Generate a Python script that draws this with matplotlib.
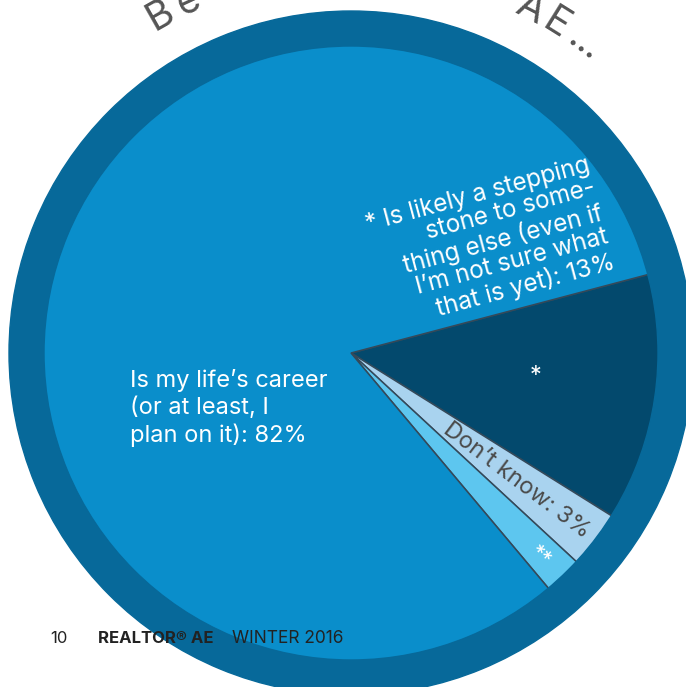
import numpy as np
import matplotlib
matplotlib.use("Agg")
import matplotlib.pyplot as plt
from matplotlib.patches import Annulus

# ---------------------------------------------------------------------------
# Data
# ---------------------------------------------------------------------------

shares = [13, 3, 2, 82]
slice_labels = [
    "* Is likely a stepping\nstone to some-\nthing else (even if\nI\u2019m not sure what\nthat is yet): 13%",
    "Don\u2019t know: 3%",
    "**",
    "Is my life\u2019s career\n(or at least, I\nplan on it): 82%",
]
slice_colors = ["#03496d", "#a9d3ef", "#5dc6ef", "#0a8ecb"]
ring_color = "#07699a"
title_left = "Be"
title_right = "AE ..."
footer_page = "10"
footer_mag = "REALTOR\u00ae AE"
footer_issue = "WINTER 2016"

W, H = 686, 687
FONT = ["Inter", "DejaVu Sans"]

fig = plt.figure(figsize=(W / 100, H / 100), dpi=100)
ax = fig.add_axes([0, 0, 1, 1])

# pie centre in pixel coords (y axis inverted below)
cx, cy = 351, 353
r_pie = 308

ax.pie(shares, colors=slice_colors, startangle=-14.8, counterclock=True,
       center=(cx, cy), radius=r_pie,
       wedgeprops=dict(edgecolor="#34495a", linewidth=1.1))
ax.add_patch(Annulus((cx, cy), r=342, width=35, color=ring_color, zorder=5))

ax.set_xlim(0, W)
ax.set_ylim(H, 0)
ax.set_aspect("equal")
ax.axis("off")

# ---------------------------------------------------------------------------
# Slice labels
# ---------------------------------------------------------------------------

ax.text(602, 213, slice_labels[0], color="white", fontsize=17.5, family=FONT,
        ha="right", va="center", multialignment="right",
        rotation=15, rotation_mode="anchor", linespacing=1.06, zorder=6)
ax.text(536, 376, "*", color="white", fontsize=17, family=FONT,
        ha="center", va="center", zorder=6)
ax.text(516, 481, slice_labels[1], color="#4a4a4a", fontsize=17, family=FONT,
        ha="center", va="center", rotation=-37,
        rotation_mode="anchor", zorder=6)
ax.text(540, 557, slice_labels[2], color="white", fontsize=15, family=FONT,
        ha="center", va="center", rotation=-42,
        rotation_mode="anchor", zorder=6)
ax.text(130, 369, slice_labels[3], color="white", fontsize=17, family=FONT,
        ha="left", va="top", linespacing=1.25, zorder=6)

# ---------------------------------------------------------------------------
# Curved title along the ring
# ---------------------------------------------------------------------------

def arc_text(chars, angles, radius=377):
    for ch, a in zip(chars, angles):
        t = np.radians(a)
        ax.text(cx + radius * np.sin(t), cy - radius * np.cos(t), ch,
                color="#555555", fontsize=28, family=FONT,
                ha="center", va="baseline", rotation=-a, rotation_mode="anchor",
                zorder=6, clip_on=False)

arc_text(title_left, [-29.5, -24.8])
arc_text(title_right, [27.4, 32.0, 34.0, 35.6, 37.1, 38.7])

# ---------------------------------------------------------------------------
# Footer
# ---------------------------------------------------------------------------

ax.text(50, 643, footer_page, color="#222222", fontsize=12, family=FONT,
        ha="left", va="baseline", zorder=6)
ax.text(98, 643, footer_mag, color="#222222", fontsize=12, family=FONT,
        fontweight="bold", ha="left", va="baseline", zorder=6)
ax.text(232, 643, footer_issue, color="#222222", fontsize=12.5, family=FONT,
        ha="left", va="baseline", zorder=6)

fig.savefig("out.png", dpi=100)
